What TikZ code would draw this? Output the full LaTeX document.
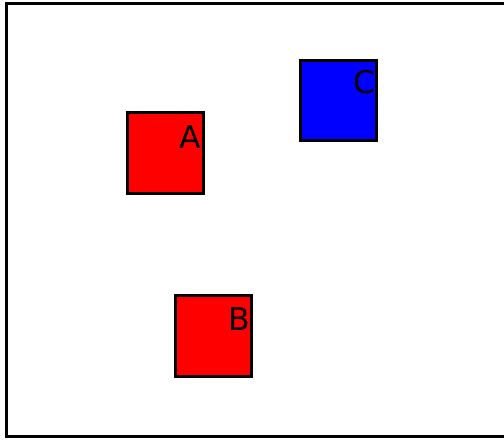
\documentclass[tikz,border=0pt]{standalone}
\usepackage{fontspec}
\setmainfont{DejaVu Sans}
\usepackage{xcolor}
\definecolor{boxred}{HTML}{FF0000}
\definecolor{boxblue}{HTML}{0000FF}
\usepackage{tikz}
\usetikzlibrary{positioning}

\begin{document}
\begin{tikzpicture}[x=1bp, y=-1bp,
    box/.style={draw=black, line width=3bp, minimum width=76bp, minimum height=81bp, inner sep=0pt},
    boxlabel/.style={font=\fontsize{31.5}{32}\selectfont, inner sep=0pt, anchor=base}]
  \useasboundingbox (0,0) rectangle (504,440);

  % outer frame, the right edge runs past the page
  \draw[line width=3bp] (6.4,3.4) rectangle (520,436.8);

  % the three squares
  \node[box, fill=boxred] (A) at (165.5,153) {};
  \node[box, fill=boxred] (B) at (213.5,335.5) {};
  \node[box, fill=boxblue, minimum height=80bp] (C) at (338.5,100.3) {};

  % labels, upper right inside each square
  \node[boxlabel] (A-lbl) at ([xshift=-14.7bp, yshift=-37.5bp]A.north east) {A};
  \node[boxlabel] (B-lbl) at ([xshift=-14.2bp, yshift=-37bp]B.north east) {B};
  \node[boxlabel] (C-lbl) at ([xshift=-14bp, yshift=-34.5bp]C.north east) {C};
\end{tikzpicture}
\end{document}
